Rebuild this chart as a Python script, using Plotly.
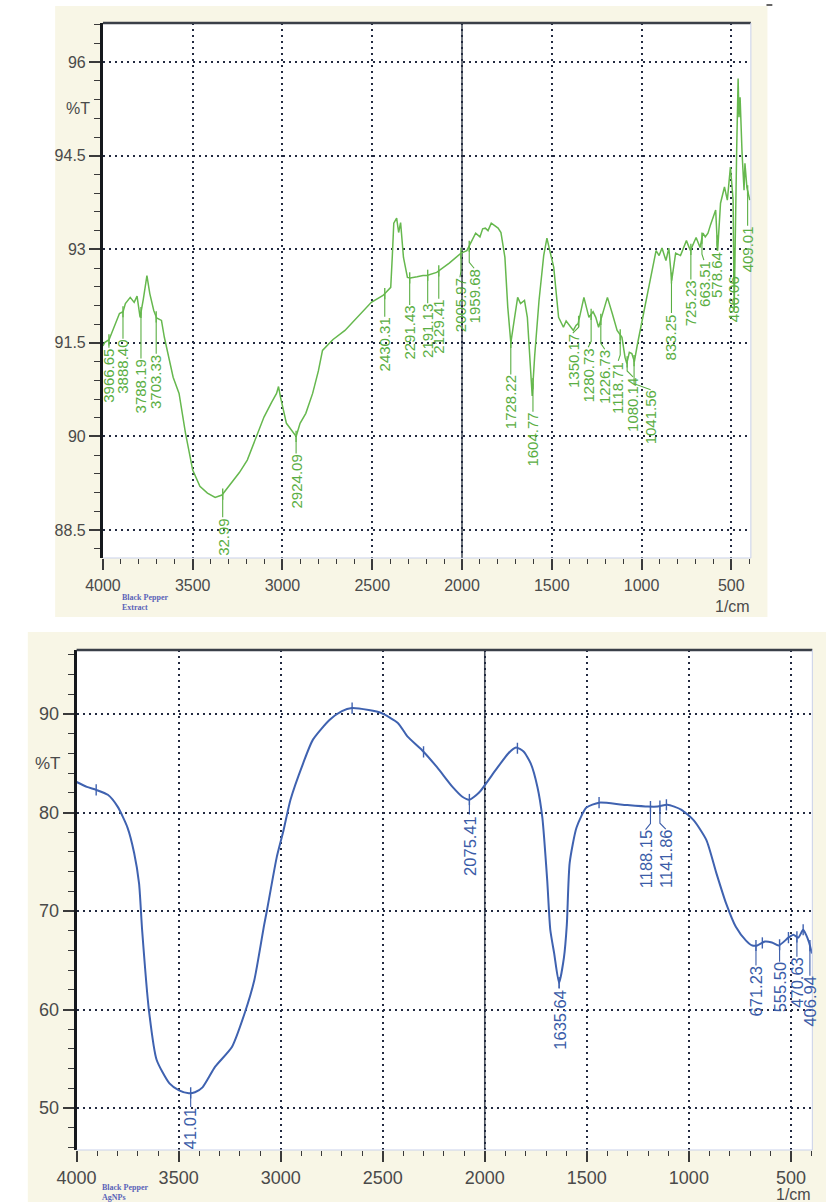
import numpy as np
import plotly.graph_objects as go

# ---------------- data ----------------
top_wn = [4000, 3989, 3966, 3940, 3908, 3888, 3875, 3848, 3826, 3810, 3793, 3775, 3755, 3739, 3717,
          3701, 3674, 3658, 3630, 3609, 3576, 3540, 3500, 3460, 3418, 3375, 3337, 3283, 3240, 3196,
          3150, 3103, 3060, 3033, 3022, 3011, 2978, 2940, 2924, 2902, 2870, 2832, 2800, 2777, 2720,
          2652, 2580, 2505, 2440, 2397, 2388, 2380, 2364, 2353, 2342, 2326, 2304, 2288, 2250, 2217,
          2196, 2141, 2071, 2005, 1973, 1950, 1924, 1900, 1885, 1870, 1855, 1837, 1815, 1799, 1783,
          1761, 1745, 1728, 1710, 1690, 1674, 1652, 1636, 1620, 1609, 1595, 1571, 1545, 1527, 1511,
          1489, 1462, 1435, 1420, 1402, 1380, 1365, 1353, 1321, 1293, 1270, 1255, 1239, 1215, 1190,
          1163, 1136, 1109, 1092, 1082, 1068, 1054, 1040, 1022, 1000, 975, 946, 919, 902, 886,
          864, 848, 832, 810, 783, 766, 750, 728, 710, 696, 674, 658, 645, 630, 615,
          603, 587, 576, 560, 538, 522, 505, 490, 484, 478, 470, 462, 457, 451, 445,
          440, 429, 424, 413, 397]
top_t = [91.45, 91.51, 91.55, 91.75, 91.97, 92.00, 92.13, 92.23, 92.15, 92.25, 91.91, 92.20, 92.58, 92.29, 92.02,
         91.90, 91.86, 91.59, 91.22, 90.95, 90.69, 90.05, 89.46, 89.20, 89.09, 89.02, 89.06, 89.25, 89.42, 89.62,
         89.95, 90.31, 90.55, 90.69, 90.80, 90.63, 90.21, 90.07, 90.00, 90.21, 90.37, 90.69, 91.05, 91.38, 91.55,
         91.70, 91.92, 92.15, 92.26, 92.39, 92.90, 93.42, 93.50, 93.27, 93.43, 92.87, 92.55, 92.54, 92.56, 92.58,
         92.58, 92.63, 92.78, 92.94, 92.98, 93.10, 93.26, 93.20, 93.33, 93.34, 93.30, 93.42, 93.38, 93.34, 93.27,
         92.87, 92.07, 91.50, 91.85, 92.23, 92.13, 92.18, 91.91, 91.20, 90.65, 91.30, 92.18, 92.90, 93.18, 92.98,
         92.71, 91.91, 91.75, 91.85, 91.78, 91.70, 91.78, 91.81, 92.23, 91.91, 92.00, 91.91, 91.75, 92.00, 92.23,
         91.97, 91.70, 91.59, 91.27, 91.17, 91.35, 91.33, 91.20, 91.49, 91.81, 92.20, 92.62, 92.98, 92.90, 93.02,
         92.82, 93.02, 92.50, 92.94, 92.90, 93.02, 93.14, 92.98, 93.10, 93.19, 93.03, 93.26, 93.20, 93.26, 93.40,
         93.51, 93.63, 92.98, 93.74, 94.00, 93.79, 94.32, 93.80, 92.02, 93.50, 94.60, 95.74, 95.12, 95.44, 94.90,
         94.54, 93.95, 94.38, 93.99, 93.79]

top_peak_wn = [3966.65, 3888.40, 3788.19, 3703.33, 3332.99, 2924.09, 2430.31, 2291.43, 2191.13, 2129.41,
               2005.97, 1959.68, 1728.22, 1604.77, 1350.17, 1280.73, 1226.73, 1118.71, 1080.14, 1041.56,
               833.25, 725.23, 663.51, 578.64, 486.06, 409.01]
top_peak_text = ["3966.65", "3888.40", "3788.19", "3703.33", "32.99", "2924.09", "2430.31", "2291.43", "2191.13", "2129.41",
                 "2005.97", "1959.68", "1728.22", "1604.77", "1350.17", "1280.73", "1226.73", "1118.71", "1080.14", "1041.56",
                 "833.25", "725.23", "663.51", "578.64", "486.06", "409.01"]

bot_wn = [4000, 3950, 3904, 3847, 3799, 3751, 3718, 3694, 3679, 3646, 3608, 3545, 3498, 3450, 3420,
          3383, 3321, 3239, 3177, 3129, 3081, 3067, 3019, 2986, 2952, 2890, 2842, 2761, 2700, 2651,
          2569, 2507, 2426, 2378, 2306, 2234, 2158, 2110, 2077, 2029, 1947, 1885, 1847, 1810, 1775,
          1742, 1718, 1694, 1679, 1660, 1636, 1612, 1598, 1584, 1550, 1502, 1440, 1325, 1201, 1153,
          1105, 1038, 976, 914, 866, 818, 770, 720, 689, 665, 627, 593, 560, 512, 488,
          464, 440, 426, 411, 397]
bot_t = [83.1, 82.6, 82.3, 81.8, 80.6, 78.5, 75.9, 72.8, 68.1, 60.0, 54.9, 52.5, 51.8, 51.5, 51.6,
         52.1, 54.2, 56.2, 59.6, 63.0, 68.6, 70.1, 75.5, 78.2, 81.3, 85.0, 87.4, 89.4, 90.3, 90.6,
         90.4, 90.1, 89.1, 87.7, 86.3, 84.6, 82.6, 81.6, 81.3, 82.0, 84.3, 86.0, 86.6, 86.2, 85.0,
         82.6, 79.5, 73.1, 68.1, 65.7, 62.7, 65.3, 68.6, 74.9, 78.5, 80.5, 81.0, 80.8, 80.6, 80.6,
         80.8, 80.3, 79.2, 77.2, 73.9, 70.8, 68.4, 67.0, 66.5, 66.5, 66.9, 66.8, 66.5, 67.3, 67.6,
         67.3, 68.1, 67.6, 66.8, 65.7]

bot_peak_wn = [3441.01, 2075.41, 1635.64, 1188.15, 1141.86, 671.23, 555.50, 470.63, 406.94]
bot_peak_text = ["41.01", "2075.41", "1635.64", "1188.15", "1141.86", "671.23", "555.50", "470.63", "406.94"]
bot_extra_marks = [3904, 2650, 2300, 1840, 1440, 1110, 640, 512, 440]

x_ticks = [4000, 3500, 3000, 2500, 2000, 1500, 1000, 500]
top_y_ticks = [88.5, 90, 91.5, 93, 94.5, 96]
bot_y_ticks = [50, 60, 70, 80, 90]

# ---------------- layout / style ----------------
W, H = 826, 1202
GREEN = "#66b84e"
GREEN_T = "#5aae43"
BLUE = "#3f62b0"
BLUE_T = "#3b5ca8"
CREAM = "#f8f6e6"
TICKC = "#4a4a4a"
GRIDC = "#222a40"
TFONT = "Liberation Sans, Arial, sans-serif"
SANS = "Liberation Sans, Arial, sans-serif"

# plot area pixel boxes (left, top, right, bottom)
TOP_BOX = (85, 23, 749, 558)
BOT_BOX = (58, 650, 812, 1150)
TOP_XR = [4000, 391]
TOP_YR = [88.05, 96.63]
BOT_XR = [4000, 395]
BOT_YR = [45.74, 96.5]

top_label_drop_px = [8, 27, 46, 37, 23, 17, 23, 27, 28, 28, 24, 22, 32, 28, 12, 33, 30, 26, 15, 29, 35, 30, 22, 10, 3, 35]
top_label_shift_px = [0, 0, 0, 0, 0, 0, 0, 0, 0, 0, -1, 5, 0, 0, -6, -3, 4, -2, 6, 17, 0, 0, 2, 0, 0, 0]
bot_label_drop_px = [14, 15, 6, 23, 23, 20, 17, 20, 30]
bot_label_shift_px = [0, 0, 0, -5, 6, 0, 0, 0, 0]


def px(x):
    return x / W


def py(y):
    return 1 - y / H


def dom(box):
    l, t, r, b = box
    return [px(l), px(r)], [py(b), py(t)]


def curve_at(wn_list, t_list, w):
    xs = np.array(wn_list[::-1], dtype=float)
    ys = np.array(t_list[::-1], dtype=float)
    return float(np.interp(w, xs, ys))


fig = go.Figure()

annotations = []
shapes = []


def add_panel(wn, t, peaks, texts, drops, shifts, extra, box, xr, yr, xa, ya, col, tcol, lw, fsize, smooth):
    l, tp, r, b = box
    xscale = (r - l) / abs(xr[0] - xr[1])   # px per unit
    yscale = (b - tp) / (yr[1] - yr[0])
    line = dict(color=col, width=lw)
    if smooth:
        line.update(shape="spline", smoothing=0.6)
    fig.add_trace(go.Scatter(x=wn, y=t, mode="lines", line=line,
                             xaxis=xa, yaxis=ya, hoverinfo="skip", showlegend=False))
    cx, cy = [], []
    mx, my = [], []
    for w, txt, d, s in zip(peaks, texts, drops, shifts):
        yc = curve_at(wn, t, w)
        mx.append(w)
        my.append(yc)
        x2 = w - s / xscale
        y1 = yc - max(d - 6, 0) / yscale
        y2 = yc - d / yscale
        cx += [w, w, x2, None]
        cy += [yc, y1, y2, None]
        annotations.append(dict(x=x2, y=y2, xref=xa, yref=ya, text=txt, showarrow=False,
                                textangle=-90, xanchor="center", yanchor="top",
                                font=dict(family=SANS, size=fsize, color=tcol), borderpad=0))
    for w in extra:
        mx.append(w)
        my.append(curve_at(wn, t, w))
    fig.add_trace(go.Scatter(x=cx, y=cy, mode="lines", line=dict(color=tcol, width=1.1),
                             xaxis=xa, yaxis=ya, hoverinfo="skip", showlegend=False))
    fig.add_trace(go.Scatter(x=mx, y=my, mode="markers",
                             marker=dict(symbol="line-ns", size=8, line=dict(color=col, width=1.4)),
                             xaxis=xa, yaxis=ya, hoverinfo="skip", showlegend=False))


add_panel(top_wn, top_t, top_peak_wn, top_peak_text, top_label_drop_px, top_label_shift_px, [],
          TOP_BOX, TOP_XR, TOP_YR, "x", "y", GREEN, GREEN_T, 1.5, 15, False)
add_panel(bot_wn, bot_t, bot_peak_wn, bot_peak_text, bot_label_drop_px, bot_label_shift_px, bot_extra_marks,
          BOT_BOX, BOT_XR, BOT_YR, "x2", "y2", BLUE, BLUE_T, 2.0, 16.5, True)

# cream panels, white plot areas
shapes.append(dict(type="rect", xref="paper", yref="paper", x0=px(36), x1=px(766), y0=py(617), y1=py(6),
                   fillcolor=CREAM, line=dict(width=0), layer="below"))
shapes.append(dict(type="rect", xref="paper", yref="paper", x0=px(8), x1=px(826), y0=py(1202), y1=py(632),
                   fillcolor=CREAM, line=dict(width=0), layer="below"))
for box in (TOP_BOX, BOT_BOX):
    l, tp, r, b = box
    shapes.append(dict(type="rect", xref="paper", yref="paper", x0=px(l), x1=px(r), y0=py(b), y1=py(tp),
                       fillcolor="white", line=dict(width=0), layer="below"))

for box, xa, ya in [(TOP_BOX, "x", "y"), (BOT_BOX, "x2", "y2")]:
    l, tp, r, b = box
    shapes.append(dict(type="line", xref="paper", yref="paper", x0=px(l), x1=px(r), y0=py(tp), y1=py(tp),
                       line=dict(color="#3a3f48", width=2.5), layer="above"))
    shapes.append(dict(type="line", xref="paper", yref="paper", x0=px(r), x1=px(r), y0=py(b), y1=py(tp),
                       line=dict(color="#c9d1ea", width=1), layer="above"))
    shapes.append(dict(type="line", xref="paper", yref="paper", x0=px(l), x1=px(r), y0=py(b), y1=py(b),
                       line=dict(color="#c9d1ea", width=1), layer="above"))
    shapes.append(dict(type="line", xref=xa, yref=ya + " domain", x0=2000, x1=2000, y0=0, y1=1,
                       line=dict(color="#4e5560", width=1.6), layer="below"))

shapes.append(dict(type="line", xref="paper", yref="paper", x0=px(765), x1=px(771), y0=py(5), y1=py(5),
                   line=dict(color="#333", width=1.5)))

SERIF = "Liberation Serif, DejaVu Serif, serif"
annotations += [
    dict(x=px(59), y=py(108), xref="paper", yref="paper", text="%T", showarrow=False,
         xanchor="center", yanchor="middle", font=dict(family=TFONT, size=16, color=TICKC)),
    dict(x=px(29), y=py(763), xref="paper", yref="paper", text="%T", showarrow=False,
         xanchor="center", yanchor="middle", font=dict(family=TFONT, size=17, color=TICKC)),
    dict(x=px(750), y=py(606), xref="paper", yref="paper", text="1/cm", showarrow=False,
         xanchor="right", yanchor="middle", font=dict(family=TFONT, size=16, color=TICKC)),
    dict(x=px(813), y=py(1194), xref="paper", yref="paper", text="1/cm", showarrow=False,
         xanchor="right", yanchor="middle", font=dict(family=TFONT, size=16, color=TICKC)),
    dict(x=px(102), y=py(602), xref="paper", yref="paper", text="<b>Black Pepper<br>Extract</b>", showarrow=False,
         xanchor="left", yanchor="middle", align="left", font=dict(family=SERIF, size=8, color="#5a63b8")),
    dict(x=px(82), y=py(1192), xref="paper", yref="paper", text="<b>Black Pepper<br>AgNPs</b>", showarrow=False,
         xanchor="left", yanchor="middle", align="left", font=dict(family=SERIF, size=8, color="#5a63b8")),
]


def xaxis_cfg(box, xr, anchor, fsize, standoff):
    d, _ = dom(box)
    return dict(domain=d, anchor=anchor, range=xr, tickmode="array", tickvals=x_ticks,
                ticktext=[str(v) for v in x_ticks], ticks="outside", ticklen=11, tickwidth=1.5,
                tickcolor="#3a3a3a", showline=False, zeroline=False,
                showgrid=True, gridcolor=GRIDC, gridwidth=1.6, griddash="2px,4px",
                minor=dict(dtick=100, tick0=0, ticks="outside", ticklen=5, tickwidth=1.3,
                           tickcolor="#3a3a3a", showgrid=False),
                tickfont=dict(family=TFONT, size=fsize, color=TICKC), ticklabelstandoff=standoff,
                fixedrange=True)


def yaxis_cfg(box, yr, anchor, ticks, minor_dt, fsize):
    _, d = dom(box)
    return dict(domain=d, anchor=anchor, range=yr, tickmode="array", tickvals=ticks,
                ticktext=[("%g" % v) for v in ticks], ticks="outside", ticklen=11, tickwidth=1.5,
                tickcolor="#3a3a3a", showline=True, linecolor="#15181d", linewidth=3, zeroline=False,
                showgrid=True, gridcolor=GRIDC, gridwidth=1.6, griddash="2px,4px",
                minor=dict(dtick=minor_dt, tick0=0, ticks="outside", ticklen=6, tickwidth=1.3,
                           tickcolor="#3a3a3a", showgrid=False),
                tickfont=dict(family=TFONT, size=fsize, color=TICKC), fixedrange=True)


fig.update_layout(
    width=W, height=H, margin=dict(l=0, r=0, t=0, b=0),
    paper_bgcolor="white", plot_bgcolor="white", showlegend=False,
    xaxis=xaxis_cfg(TOP_BOX, TOP_XR, "y", 16, 2),
    yaxis=yaxis_cfg(TOP_BOX, TOP_YR, "x", top_y_ticks, 0.3, 16),
    xaxis2=xaxis_cfg(BOT_BOX, BOT_XR, "y2", 18, 0),
    yaxis2=yaxis_cfg(BOT_BOX, BOT_YR, "x2", bot_y_ticks, 2, 18),
    shapes=shapes, annotations=annotations,
)

fig.write_html("out.html")
